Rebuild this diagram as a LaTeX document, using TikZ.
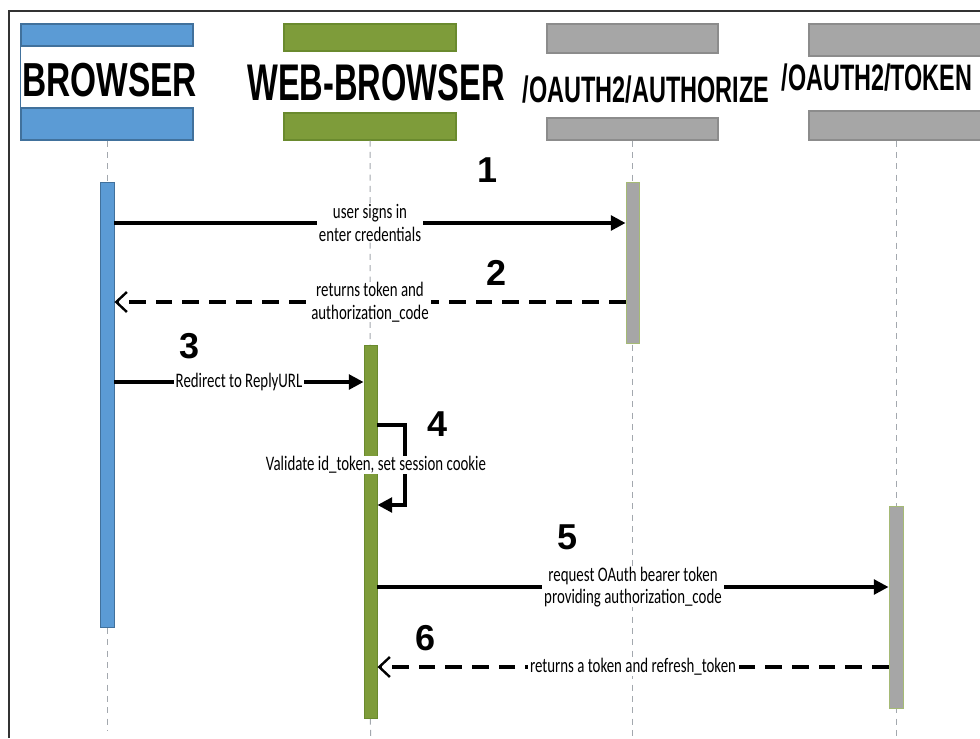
\documentclass[tikz,border=0pt]{standalone}
\usepackage{fontspec}
\usepackage{graphicx}
\setmainfont{Carlito}
\newfontfamily\labfont[FakeStretch=0.72]{Carlito}
\newfontfamily\hdrfont{Liberation Sans}
\usetikzlibrary{arrows.meta,fit}
\definecolor{bblue}{HTML}{5B9BD5}
\definecolor{bblueD}{HTML}{41719C}
\definecolor{wgreen}{HTML}{7E9C3A}
\definecolor{wgreenD}{HTML}{6A8A2E}
\definecolor{ggray}{HTML}{A6A6A6}
\definecolor{ggrayD}{HTML}{8C8C8C}
\definecolor{lline}{HTML}{A3A8AE}
\definecolor{frameC}{HTML}{333333}
\begin{document}
\begin{tikzpicture}[x=0.75pt,y=-0.75pt,
  hbar/.style={inner sep=0pt,line width=0.8pt},
  bluebar/.style={hbar,fill=bblue,draw=bblueD},
  greenbar/.style={hbar,fill=wgreen,draw=wgreenD},
  graybar/.style={hbar,fill=ggray,draw=ggrayD},
  actbar/.style={inner sep=0pt,line width=0.7pt},
  hdr/.style={inner sep=0pt,font=\hdrfont\bfseries},
  num/.style={inner sep=0pt,font=\hdrfont\bfseries\fontsize{27pt}{27pt}\selectfont},
  life/.style={draw=lline,line width=0.75pt,dash pattern=on 4.5pt off 4pt},
  msg/.style={line width=2.6pt,-{Triangle[length=11pt,width=11pt]}},
  ret/.style={line width=2.6pt,dash pattern=on 12.5pt off 7.5pt,-{Straight Barb[length=8pt,width=15pt,line width=1.8pt]}},
  lab/.style={fill=white,inner xsep=1.5pt,inner ysep=0pt,align=center,font=\labfont\fontsize{15.5pt}{17pt}\selectfont}
]
\useasboundingbox (0,0) rectangle (980,738);
% frame
\draw[frameC,line width=1.1pt] (9,738) -- (9,11) -- (985,11);

% header bars
\node[bluebar,fit={(21,24)(193,46)}] (bT) {};
\node[bluebar,fit={(21,108)(193,140)}] (bB) {};
\draw[bblueD,line width=0.8pt] (bT.south west) -- (bB.north west);
\node[greenbar,fit={(284,24)(456,51)}] (wT) {};
\node[greenbar,fit={(284,113)(456,140)}] (wB) {};
\node[graybar,fit={(547,24)(718,53)}] (oT) {};
\node[graybar,fit={(547,118)(718,140)}] (oB) {};
\node[graybar,fit={(809,24)(983,56)}] (tT) {};
\node[graybar,fit={(809,111)(983,140)}] (tB) {};

% header titles
\node[hdr] (hB) at (109.5,80) {\resizebox{131pt}{25pt}{BROWSER}};
\node[hdr] (hW) at (376,83) {\resizebox{193pt}{27pt}{WEB-BROWSER}};
\node[hdr] (hO) at (646,90) {\resizebox{185pt}{20pt}{/OAUTH2/AUTHORIZE}};
\node[hdr] (hT) at (877,78) {\resizebox{143pt}{20pt}{/OAUTH2/TOKEN}};

% lifeline ends
\coordinate (eB) at (107,730);
\coordinate (eW) at (370.5,736);
\coordinate (eO) at (632.5,736);
\coordinate (eT) at (896,738);
\draw[life] (bB.south) -- (eB);
\draw[life] (wB.south) -- (eW);
\draw[life] (oB.south) -- (eO);
\draw[life] (tB.south -| eT) -- (eT);

% activation bars
\node[actbar,fill=bblue,draw=bblueD,fit={(100,182)(114,627)}] (aB) {};
\node[actbar,fill=ggray,draw=wgreen!70,fit={(626,182)(639,343)}] (aO) {};
\node[actbar,fill=wgreen,draw=wgreenD,fit={(364,345)(377,718)}] (aW) {};
\node[actbar,fill=ggray,draw=wgreen!70,fit={(889,506)(903,708)}] (aT) {};

% message levels
\coordinate (y1) at (0,223);
\coordinate (y2) at (0,302);
\coordinate (y3) at (0,382);
\coordinate (y4a) at (0,425);
\coordinate (y4b) at (0,505);
\coordinate (x4) at (405,0);
\coordinate (y5) at (0,587);
\coordinate (y6) at (0,667);

% 1
\draw[msg] (aB.east |- y1) -- node[lab] (l1) {user signs in\\enter credentials} (aO.west |- y1);
% 2
\draw[ret] (aO.west |- y2) -- node[lab] (l2) {returns token and\\authorization\_code} (aB.east |- y2);
% 3
\draw[msg] (aB.east |- y3) -- node[lab] (l3) {Redirect to ReplyURL} (aW.west |- y3);
% 4 self call
\draw[msg] (aW.east |- y4a) -- (x4 |- y4a) -- (x4 |- y4b) -- (aW.east |- y4b);
\node[lab,inner ysep=0.5pt] (l4) at (376,465) {Validate id\_token, set session cookie};
% 5
\draw[msg] (aW.east |- y5) -- node[lab] (l5) {request OAuth bearer token\\providing authorization\_code} (aT.west |- y5);
% 6
\draw[ret] (aT.west |- y6) -- node[lab] (l6) {returns a token and refresh\_token} (aW.east |- y6);

% step numbers
\node[num] (n1) at (488,170) {1};
\node[num] (n2) at (497,273) {2};
\node[num] (n3) at (190,346) {3};
\node[num] (n4) at (438,424) {4};
\node[num] (n5) at (568,537) {5};
\node[num] (n6) at (426,638) {6};
\end{tikzpicture}
\end{document}
